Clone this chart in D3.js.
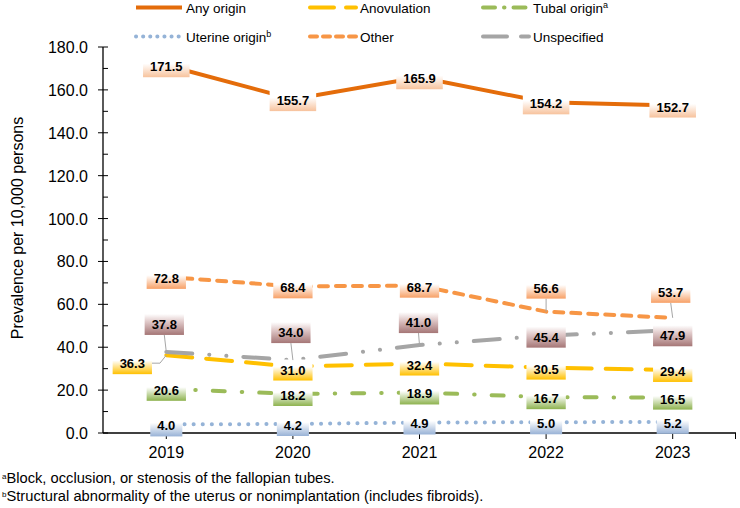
<!DOCTYPE html>
<meta charset="utf-8">
<script src="https://d3js.org/d3.v7.min.js"></script>
<style>
  body { margin: 0; background: #fff; }
  text { font-family: "Liberation Sans", Arial, sans-serif; }
</style>
<div id="my_dataviz"></div>
<script>
// data
var years = ["2019", "2020", "2021", "2022", "2023"];
var anyOrigin = [171.5, 155.7, 165.9, 154.2, 152.7];
var anovulation = [36.3, 31.0, 32.4, 30.5, 29.4];
var tubalOrigin = [20.6, 18.2, 18.9, 16.7, 16.5];
var uterineOrigin = [4.0, 4.2, 4.9, 5.0, 5.2];
var other = [72.8, 68.4, 68.7, 56.6, 53.7];
var unspecified = [37.8, 34.0, 41.0, 45.4, 47.9];
var yTicks = [0, 20, 40, 60, 80, 100, 120, 140, 160, 180];
var footnotes = [["a", "Block, occlusion, or stenosis of the fallopian tubes."],
                 ["b", "Structural abnormality of the uterus or nonimplantation (includes fibroids)."]];

// series styling
var series = [
  {name: "Any origin", sup: "", values: anyOrigin, color: "#E46C0A", dash: null, legendDash: null,
   box: ["#ffffff", "#ffffff", "#F7C29C"]},
  {name: "Anovulation", sup: "", values: anovulation, color: "#FFC000", dash: "26,14", legendDash: "24,12",
   box: ["#ffffff", "#ffffff", "#FFC000"]},
  {name: "Tubal origin", sup: "a", values: tubalOrigin, color: "#9BBB59", dash: "12,17,0.5,17", legendDash: "12,9,0.5,9",
   box: ["#ffffff", "#ffffff", "#8DB24E"]},
  {name: "Uterine origin", sup: "b", values: uterineOrigin, color: "#95B3D7", dash: "0.1,9", legendDash: "0.1,7",
   box: ["#ffffff", "#ffffff", "#98B2D6"]},
  {name: "Other", sup: "", values: other, color: "#F79646", dash: "9,8", legendDash: "7,6",
   box: ["#ffffff", "#ffffff", "#F7A066"]},
  {name: "Unspecified", sup: "", values: unspecified, color: "#A5A5A5", dash: "26,17,0.1,17,0.1,17", legendDash: "24,14",
   box: ["#ffffff", "#E2CCCC", "#A57676"]}
];

// label placement tweaks (series index, year index): offset from point, optional leader
var placement = {
  "5-0": {dx: -2, dy: -23, leader: "up"},
  "5-1": {dx: -2, dy: -23, leader: "up"},
  "5-2": {dx: -1, dy: -18, leader: "up"},
  "5-4": {dx: 0, dy: 10},
  "4-3": {dx: 0, dy: -19, leader: "up"},
  "4-4": {dx: -2, dy: -21, leader: "up"},
  "1-0": {dx: -34, dy: 13, leader: "left"},
  "1-1": {dx: 0, dy: 8}
};

var width = 740, height = 508;
var svg = d3.select("#my_dataviz").append("svg")
    .attr("width", width).attr("height", height);
var defs = svg.append("defs");

var x = d3.scaleBand().domain(years).range([103, 736]);
var y = d3.scaleLinear().domain([0, 180]).range([433, 47]);
function cx(i) { return x(years[i]) + x.bandwidth() / 2; }

// y axis
var yAxis = svg.append("g");
yAxis.append("line").attr("x1", 103).attr("x2", 103)
    .attr("y1", y(180)).attr("y2", y(0)).attr("stroke", "#000").attr("stroke-width", 1.3);
d3.range(10, 180, 20).forEach(function(v) {
  yAxis.append("line").attr("x1", 103).attr("x2", 108)
      .attr("y1", y(v)).attr("y2", y(v)).attr("stroke", "#000").attr("stroke-width", 1);
});
yTicks.forEach(function(v) {
  yAxis.append("line").attr("x1", 98).attr("x2", 108)
      .attr("y1", y(v)).attr("y2", y(v)).attr("stroke", "#000").attr("stroke-width", 1);
  yAxis.append("text").attr("x", 88).attr("y", y(v) + 6)
      .attr("text-anchor", "end").style("font-size", "16px").text(d3.format(".1f")(v));
});
svg.append("text")
    .attr("transform", "translate(23," + 228 + ") rotate(-90)")
    .attr("text-anchor", "middle").style("font-size", "16px")
    .text("Prevalence per 10,000 persons");

// x axis
var xAxis = svg.append("g");
xAxis.append("line").attr("x1", 103).attr("x2", 736)
    .attr("y1", y(0)).attr("y2", y(0)).attr("stroke", "#000").attr("stroke-width", 1.3);
years.forEach(function(yr, i) {
  xAxis.append("line").attr("x1", cx(i)).attr("x2", cx(i))
      .attr("y1", y(0)).attr("y2", y(0) + 6).attr("stroke", "#000");
  xAxis.append("text").attr("x", cx(i)).attr("y", y(0) + 25)
      .attr("text-anchor", "middle").style("font-size", "16px").text(yr);
});
xAxis.append("line").attr("x1", 735.5).attr("x2", 735.5)
    .attr("y1", y(0)).attr("y2", y(0) + 6).attr("stroke", "#000");

// lines
var line = d3.line().x(function(d, i) { return cx(i); }).y(function(d) { return y(d); });
series.forEach(function(s) {
  svg.append("path").datum(s.values)
      .attr("d", line)
      .attr("fill", "none")
      .attr("stroke", s.color)
      .attr("stroke-width", 4)
      .attr("stroke-linecap", s.dash ? "round" : "butt")
      .attr("stroke-dasharray", s.dash);
});

// data labels
var labels = svg.append("g");
series.forEach(function(s, si) {
  var gid = "grad" + si;
  var grad = defs.append("linearGradient").attr("id", gid)
      .attr("x1", 0).attr("x2", 0).attr("y1", 0).attr("y2", 1);
  grad.append("stop").attr("offset", "0%").attr("stop-color", s.box[0]);
  grad.append("stop").attr("offset", "35%").attr("stop-color", s.box[1]);
  grad.append("stop").attr("offset", "100%").attr("stop-color", s.box[2]);

  s.values.forEach(function(v, i) {
    var p = placement[si + "-" + i] || {dx: 0, dy: 6};
    var px = cx(i), py = y(v);
    var tx = px + p.dx, ty = py + p.dy;
    var g = labels.append("g");
    var rect = g.append("rect");
    var t = g.append("text").attr("x", tx).attr("y", ty)
        .attr("text-anchor", "middle")
        .style("font-size", "13px").style("font-weight", "bold")
        .text(d3.format(".1f")(v));
    var w = t.node().getComputedTextLength() + 14;
    rect.attr("x", tx - w / 2).attr("y", ty - 15)
        .attr("width", w).attr("height", 21)
        .attr("fill", "url(#" + gid + ")");
    if (p.leader === "up") {
      g.insert("line", "rect")
          .attr("x1", tx).attr("y1", ty + 6)
          .attr("x2", px).attr("y2", py)
          .attr("stroke", "#A6A6A6").attr("stroke-width", 1);
    } else if (p.leader === "left") {
      g.insert("polyline", "rect")
          .attr("points", [[tx + w / 2, ty - 5], [tx + w / 2 + 8, ty - 5], [px, py]].join(" "))
          .attr("fill", "none")
          .attr("stroke", "#A6A6A6").attr("stroke-width", 1);
    }
  });
});

// legend
var legendCols = [136, 310, 483], legendRows = [7.5, 36.5];
series.forEach(function(s, i) {
  var lx = legendCols[i % 3], ly = legendRows[Math.floor(i / 3)];
  svg.append("line").attr("x1", lx).attr("x2", lx + 46)
      .attr("y1", ly).attr("y2", ly)
      .attr("stroke", s.color).attr("stroke-width", 4)
      .attr("stroke-linecap", s.legendDash ? "round" : "butt")
      .attr("stroke-dasharray", s.legendDash);
  var t = svg.append("text").attr("x", lx + 50).attr("y", ly + 5)
      .style("font-size", "13.5px").text(s.name);
  if (s.sup) t.append("tspan").attr("dy", -5).style("font-size", "9px").text(s.sup);
});

// footnotes
footnotes.forEach(function(f, i) {
  var t = svg.append("text").attr("x", 2).attr("y", 483 + i * 18).style("font-size", "14.7px");
  t.append("tspan").attr("dy", -4).style("font-size", "8px").text(f[0]);
  t.append("tspan").attr("dy", 4).text(f[1]);
});
</script>
